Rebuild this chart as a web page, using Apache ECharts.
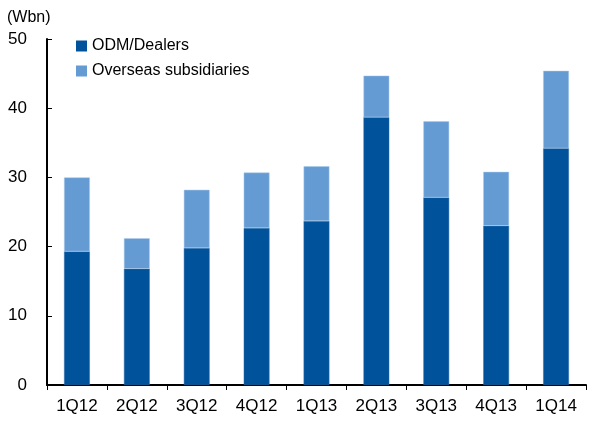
<!DOCTYPE html>
<html><head><meta charset="utf-8">
<script src="https://cdn.jsdelivr.net/npm/echarts@6/dist/echarts.min.js"></script>
<style>html,body{margin:0;padding:0;background:#fff}#c{width:589px;height:423px}</style>
</head><body><div id="c"></div>
<script>
const categories = ['1Q12','2Q12','3Q12','4Q12','1Q13','2Q13','3Q13','4Q13','1Q14'];
const odmDealers = [19.3, 16.8, 19.8, 22.7, 23.7, 38.7, 27.1, 23.0, 34.2];
const overseasSubs = [10.7, 4.4, 8.4, 8.0, 7.9, 6.0, 11.0, 7.8, 11.2];
const yTicks = [0, 10, 20, 30, 40, 50];

const font = '"Liberation Sans", Arial, sans-serif';
const chart = echarts.init(document.getElementById('c'), null, {renderer: 'canvas'});
chart.setOption({
  animation: false,
  backgroundColor: '#fff',
  grid: {left: 47, right: 3, top: 39, bottom: 38, containLabel: false},
  legend: {
    left: 76, top: 38, padding: 0, orient: 'vertical', itemWidth: 11, itemHeight: 11, itemGap: 9,
    icon: 'rect',
    itemStyle: {borderWidth: 0},
    textStyle: {fontFamily: font, fontSize: 16, color: '#000'},
    data: ['ODM/Dealers', 'Overseas subsidiaries']
  },
  graphic: [{type: 'text', left: 7, top: 10, style: {text: '(Wbn)', font: '16px ' + font, fill: '#000'}}],
  xAxis: {
    type: 'category', data: categories,
    axisLine: {lineStyle: {color: '#000', width: 2}},
    axisTick: {show: true, inside: false, length: 5, lineStyle: {color: '#000'}},
    axisLabel: {fontFamily: font, fontSize: 17, color: '#000', margin: 13},
    splitLine: {show: false}
  },
  yAxis: {
    type: 'value', min: yTicks[0], max: yTicks[yTicks.length - 1], interval: 10,
    axisLine: {show: true, lineStyle: {color: '#000', width: 2}},
    axisTick: {show: true, inside: true, length: 5, lineStyle: {color: '#000'}},
    axisLabel: {fontFamily: font, fontSize: 17, color: '#000', margin: 20},
    splitLine: {show: false}
  },
  series: [
    {name: 'ODM/Dealers', type: 'bar', stack: 's', data: odmDealers, barWidth: '43%',
     itemStyle: {color: '#00529B', borderColor: '#2f6fae', borderWidth: 0.5}},
    {name: 'Overseas subsidiaries', type: 'bar', stack: 's', data: overseasSubs, barWidth: '43%',
     itemStyle: {color: '#659BD3', borderColor: '#a9c8ea', borderWidth: 0.5}}
  ]
});
</script></body></html>
